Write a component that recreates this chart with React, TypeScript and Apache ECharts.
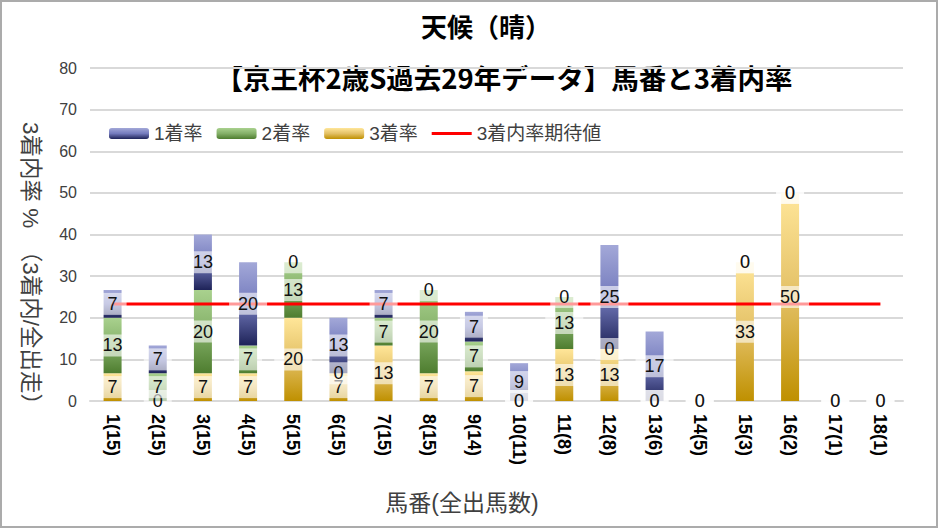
import { useEffect, useRef } from "react";
import * as echarts from "echarts";

const categories = [
  "1(15)", "2(15)", "3(15)", "4(15)", "5(15)", "6(15)", "7(15)", "8(15)", "9(14)",
  "10(11)", "11(8)", "12(8)", "13(6)", "14(5)", "15(3)", "16(2)", "17(1)", "18(1)",
];
const winRate = [6.67, 6.67, 13.33, 20, 0, 13.33, 6.67, 0, 7.14, 9.09, 0, 25, 16.67, 0, 0, 0, 0, 0];
const secondRate = [13.33, 6.67, 20, 6.67, 13.33, 0, 6.67, 20, 7.14, 0, 12.5, 0, 0, 0, 0, 0, 0, 0];
const thirdRate = [6.67, 0, 6.67, 6.67, 20, 6.67, 13.33, 6.67, 7.14, 0, 12.5, 12.5, 0, 0, 33.33, 50, 0, 0];
const expectedRate = 23.3;
const expectedLine = categories.map(() => expectedRate);

const LAT = "'Liberation Sans', 'Noto Sans CJK JP', sans-serif";
const JP = "'Noto Sans CJK JP', 'Liberation Sans', sans-serif";

function grad(stops: string[]) {
  return new echarts.graphic.LinearGradient(
    0, 0, 0, 1,
    stops.map((c, i) => ({ offset: i / (stops.length - 1), color: c }))
  );
}

const blueGrad = () => grad(["#A3A8D8", "#747BBD", "#1E2358"]);
const greenGrad = () => grad(["#A9D18E", "#84B068", "#4E7D2F"]);
const yellowGrad = () => grad(["#FFE699", "#E3C065", "#BF9000"]);

export default function App() {
  const ref = useRef<HTMLDivElement>(null);
  useEffect(() => {
    document.body.style.margin = "0";
    const chart = echarts.init(ref.current!, null, { renderer: "svg" });
    const barW = 18;
    const labelCfg = {
      show: true,
      position: "inside" as const,
      formatter: (p: any) => String(Math.round(p.value)),
      fontFamily: LAT,
      fontSize: 18,
      color: "#111",
      backgroundColor: "rgba(255,255,255,0.6)",
      padding: [2, 9, 1, 9],
      lineHeight: 19,
    };
    const mainBar = (name: string, data: number[], color: any) => ({
      name,
      type: "bar",
      stack: "main",
      data,
      barWidth: barW,
      barGap: "-100%",
      itemStyle: { color },
      z: 2,
    });
    const labelBar = (name: string, data: number[]) => ({
      name,
      type: "bar",
      stack: "lbl",
      data,
      barWidth: barW,
      barGap: "-100%",
      itemStyle: { color: "rgba(0,0,0,0)" },
      label: labelCfg,
      z: 5,
      silent: true,
    });
    chart.setOption({
      animation: false,
      grid: { left: 90, right: 35, top: 68, bottom: 127 },
      legend: {
        data: [
          "1着率",
          "2着率",
          "3着率",
          { name: "3着内率期待値", icon: "path://M0,0 L40,0 L40,3 L0,3 Z", itemStyle: { color: "#FF0000" } },
        ],
        left: 104,
        top: 119,
        itemWidth: 40,
        itemHeight: 11,
        itemGap: 14,
        textStyle: { fontFamily: LAT, fontSize: 19, color: "#404040" },
      },
      xAxis: {
        type: "category",
        data: categories,
        axisLine: { lineStyle: { color: "#D9D9D9", width: 2 } },
        axisTick: { show: false },
        axisLabel: {
          rotate: -90,
          fontFamily: LAT,
          fontSize: 18,
          fontWeight: "bold",
          color: "#000",
          margin: 13,
          interval: 0,
        },
      },
      yAxis: {
        type: "value",
        min: 0,
        max: 80,
        interval: 10,
        axisLine: { show: false },
        axisTick: { show: false },
        splitLine: { lineStyle: { color: "#D9D9D9", width: 2 } },
        axisLabel: { fontFamily: LAT, fontSize: 16, color: "#404040", margin: 13 },
      },
      series: [
        mainBar("3着率", thirdRate, yellowGrad()),
        mainBar("2着率", secondRate, greenGrad()),
        mainBar("1着率", winRate, blueGrad()),
        {
          name: "3着内率期待値",
          type: "line",
          data: expectedLine,
          symbol: "none",
          lineStyle: { color: "#FF0000", width: 3 },
          itemStyle: { color: "#FF0000" },
          z: 3,
        },
        labelBar("l3", thirdRate),
        labelBar("l2", secondRate),
        labelBar("l1", winRate),
      ],
      graphic: [
        {
          type: "rect",
          shape: { x: 1, y: 1, width: 936, height: 526 },
          style: { fill: "none", stroke: "#ABABAB", lineWidth: 2 },
          silent: true,
        },
        {
          type: "text",
          x: 486,
          y: 25,
          style: {
            text: "天候（晴）",
            fontFamily: JP,
            fontSize: 26,
            fontWeight: "bold",
            fill: "#000",
            textAlign: "center",
            textVerticalAlign: "middle",
          },
        },
        {
          type: "text",
          x: 504,
          y: 77,
          style: {
            text: "【京王杯2歳S過去29年データ】馬番と3着内率",
            fontFamily: JP,
            fontSize: 27.5,
            fontWeight: "bold",
            fill: "#000",
            textAlign: "center",
            textVerticalAlign: "middle",
          },
        },
        {
          type: "text",
          x: 30,
          y: 269,
          rotation: -Math.PI / 2,
          style: {
            text: "3着内率 %　（3着内/全出走）",
            fontFamily: LAT,
            fontSize: 22.5,
            fill: "#404040",
            textAlign: "center",
            textVerticalAlign: "middle",
          },
        },
        {
          type: "text",
          x: 462,
          y: 503,
          style: {
            text: "馬番(全出馬数)",
            fontFamily: LAT,
            fontSize: 23,
            fill: "#404040",
            textAlign: "center",
            textVerticalAlign: "middle",
          },
        },
      ],
    });
    return () => chart.dispose();
  }, []);
  return <div ref={ref} style={{ width: 938, height: 528 }} />;
}
